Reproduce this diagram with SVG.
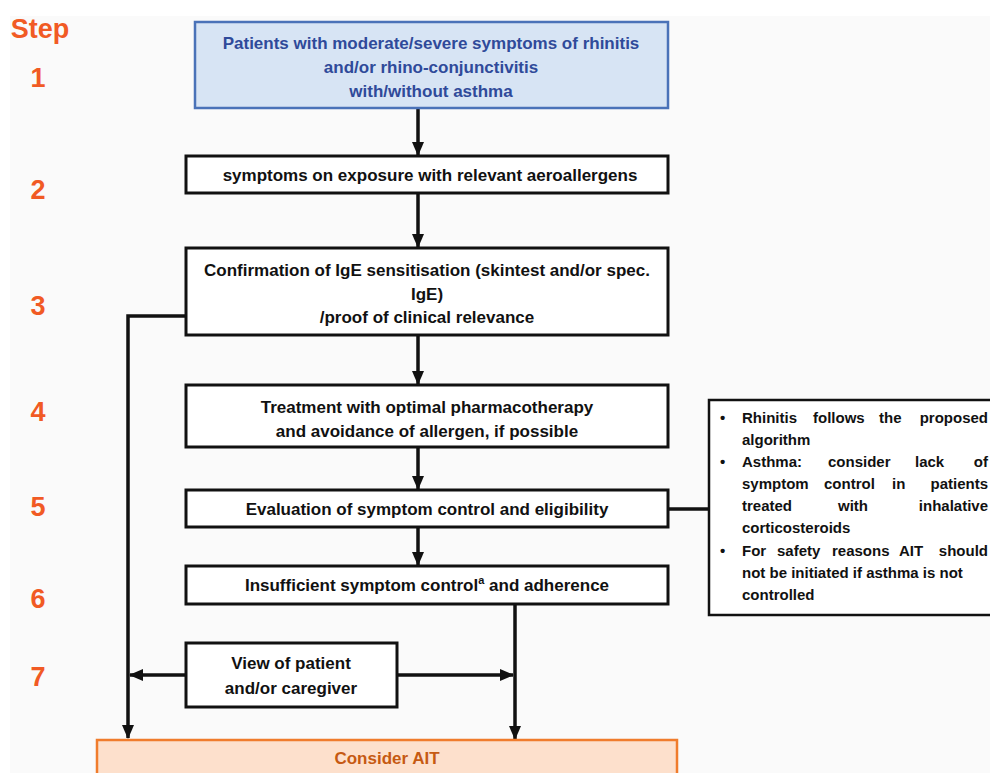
<svg xmlns="http://www.w3.org/2000/svg" width="990" height="773" viewBox="0 0 990 773">
<defs>
<style>
.t{font-family:"Liberation Sans",Arial,sans-serif;font-weight:bold;font-size:17px;fill:#111;text-anchor:middle}
.s{font-family:"Liberation Sans",Arial,sans-serif;font-weight:bold;font-size:27px;fill:#f15a24;text-anchor:middle}
.b{fill:#fff;stroke:#111;stroke-width:3}
.c{fill:none;stroke:#111;stroke-width:3.5}
.n{font-family:"Liberation Sans",Arial,sans-serif;font-weight:bold;font-size:15px;fill:#111}
</style>
<marker id="ah" markerWidth="14" markerHeight="12" refX="13" refY="6" orient="auto" markerUnits="userSpaceOnUse" viewBox="0 0 14 12">
<path d="M0,0 L14,6 L0,12 Z" fill="#111"/>
</marker>
</defs>
<rect x="0" y="0" width="990" height="773" fill="#fff"/>
<rect x="10" y="16" width="980" height="757" fill="#fafafa"/>

<g id="steps">
<text class="s" x="40" y="38">Step</text>
<text class="s" x="38" y="87">1</text>
<text class="s" x="38" y="199">2</text>
<text class="s" x="38" y="315">3</text>
<text class="s" x="38" y="421">4</text>
<text class="s" x="38" y="516">5</text>
<text class="s" x="38" y="608">6</text>
<text class="s" x="38" y="686">7</text>
</g>

<g id="connectors">
<line class="c" x1="418" y1="108" x2="418" y2="155" marker-end="url(#ah)"/>
<line class="c" x1="418" y1="193" x2="418" y2="247" marker-end="url(#ah)"/>
<line class="c" x1="418" y1="335" x2="418" y2="384" marker-end="url(#ah)"/>
<line class="c" x1="418" y1="447" x2="418" y2="489" marker-end="url(#ah)"/>
<line class="c" x1="418" y1="527" x2="418" y2="565" marker-end="url(#ah)"/>
<polyline class="c" points="186,316 128,316 128,738" marker-end="url(#ah)"/>
<line class="c" x1="515" y1="604" x2="515" y2="739" marker-end="url(#ah)"/>
<line class="c" x1="186" y1="675" x2="130" y2="675" marker-end="url(#ah)"/>
<line class="c" x1="397" y1="675" x2="513" y2="675" marker-end="url(#ah)"/>
<line class="c" x1="668" y1="509" x2="709" y2="509"/>
</g>

<g id="n1">
<rect x="195" y="22" width="473" height="86" fill="#d7e4f4" stroke="#4a72b8" stroke-width="2.5"/>
<text class="t" x="431" y="49" style="fill:#2f4a9a">Patients with moderate/severe symptoms of rhinitis</text>
<text class="t" x="431" y="73" style="fill:#2f4a9a">and/or rhino-conjunctivitis</text>
<text class="t" x="431" y="97" style="fill:#2f4a9a">with/without asthma</text>
</g>

<g id="n2">
<rect class="b" x="186" y="156" width="482" height="37"/>
<text class="t" x="430" y="181">symptoms on exposure with relevant aeroallergens</text>
</g>

<g id="n3">
<rect class="b" x="186" y="248" width="482" height="87"/>
<text class="t" x="427" y="276">Confirmation of IgE sensitisation (skintest and/or spec.</text>
<text class="t" x="427" y="300">IgE)</text>
<text class="t" x="427" y="323">/proof of clinical relevance</text>
</g>

<g id="n4">
<rect class="b" x="186" y="385" width="482" height="62"/>
<text class="t" x="427" y="413">Treatment with optimal pharmacotherapy</text>
<text class="t" x="427" y="437">and avoidance of allergen, if possible</text>
</g>

<g id="n5">
<rect class="b" x="186" y="490" width="482" height="37"/>
<text class="t" x="427" y="515">Evaluation of symptom control and eligibility</text>
</g>

<g id="n6">
<rect class="b" x="186" y="566" width="482" height="38"/>
<text class="t" x="427" y="591">Insufficient symptom control<tspan font-size="11" dy="-7">a</tspan><tspan dy="7"> and adherence</tspan></text>
</g>

<g id="n7">
<rect class="b" x="186" y="643" width="211" height="64"/>
<text class="t" x="291" y="669">View of patient</text>
<text class="t" x="291" y="694">and/or caregiver</text>
</g>

<g id="n8">
<rect x="97" y="740" width="580" height="40" fill="#fde0cc" stroke="#f07c2c" stroke-width="2.5"/>
<text class="t" x="387" y="764" style="fill:#c65a12">Consider AIT</text>
</g>

<g id="side">
<rect x="709" y="400" width="290" height="215" fill="#fff" stroke="#111" stroke-width="2.5"/>
<g class="n">
<text x="720" y="423">•</text>
<text x="742" y="423">Rhinitis</text><text x="813" y="423">follows</text><text x="879" y="423">the</text><text x="988" y="423" text-anchor="end">proposed</text>
<text x="742" y="445">algorithm</text>
<text x="720" y="467">•</text>
<text x="742" y="467">Asthma:</text><text x="828" y="467">consider</text><text x="915" y="467">lack</text><text x="988" y="467" text-anchor="end">of</text>
<text x="742" y="489">symptom</text><text x="824" y="489">control</text><text x="892" y="489">in</text><text x="988" y="489" text-anchor="end">patients</text>
<text x="742" y="511">treated</text><text x="838" y="511">with</text><text x="988" y="511" text-anchor="end">inhalative</text>
<text x="742" y="533">corticosteroids</text>
<text x="720" y="556">•</text>
<text x="742" y="556">For</text><text x="777" y="556">safety</text><text x="832" y="556">reasons</text><text x="899" y="556">AIT</text><text x="988" y="556" text-anchor="end">should</text>
<text x="742" y="578">not be initiated if asthma is not</text>
<text x="742" y="600">controlled</text>
</g>
</g>
</svg>
